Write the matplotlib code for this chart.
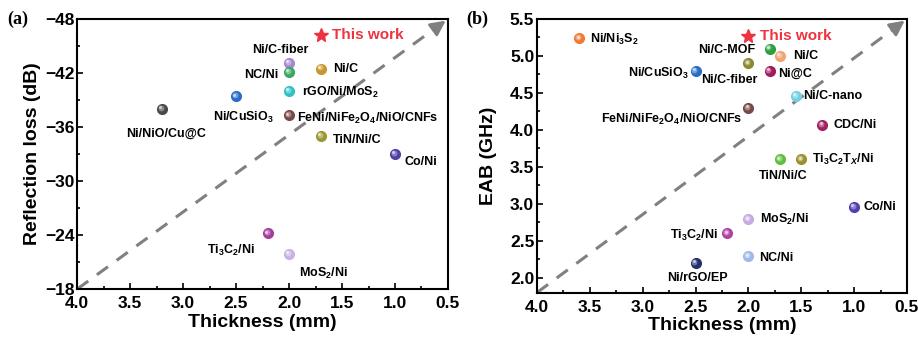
import numpy as np
import matplotlib.pyplot as plt
import matplotlib.colors as mcolors
from matplotlib.transforms import offset_copy

plt.rcParams['font.family'] = 'Liberation Sans'
plt.rcParams['font.weight'] = 'bold'
plt.rcParams['mathtext.fontset'] = 'custom'
plt.rcParams['mathtext.rm'] = 'Liberation Sans:bold'
plt.rcParams['mathtext.it'] = 'Liberation Sans:italic:bold'
plt.rcParams['mathtext.bf'] = 'Liberation Sans:bold'
plt.rcParams['mathtext.default'] = 'rm'

# (a) reflection loss vs thickness
rl_names = ['Ni/C-fiber', 'NC/Ni', 'Ni/C', r'rGO/Ni/MoS$_2$', r'Ni/CuSiO$_3$',
            'Ni/NiO/Cu@C', r'FeNi/NiFe$_2$O$_4$/NiO/CNFs', 'TiN/Ni/C', 'Co/Ni',
            r'Ti$_3$C$_2$/Ni', r'MoS$_2$/Ni']
rl_thick = [2.0, 2.0, 1.7, 2.0, 2.5, 3.2, 2.0, 1.7, 1.0, 2.2, 2.0]
rl_value = [-43.1, -42.1, -42.5, -40.0, -39.4, -38.0, -37.3, -35.0, -33.0, -24.2, -21.9]
rl_colors = ['#a886d2', '#3aa860', '#c8962c', '#30c2c4', '#2a6cc8',
             '#4a4a4a', '#7a4848', '#9a9832', '#5040a0', '#a43e9c', '#c8b2e2']
rl_this = (1.7, -46.2)

# (b) effective absorption bandwidth vs thickness
eab_names = [r'Ni/Ni$_3$S$_2$', 'Ni/C-MOF', 'Ni/C', 'Ni/C-fiber', r'Ni/CuSiO$_3$',
             'Ni@C', 'Ni/C-nano', r'FeNi/NiFe$_2$O$_4$/NiO/CNFs', 'CDC/Ni',
             'TiN/Ni/C', r'Ti$_3$C$_2$T$_\mathit{X}$/Ni', 'Co/Ni', r'MoS$_2$/Ni',
             r'Ti$_3$C$_2$/Ni', 'NC/Ni', 'Ni/rGO/EP']
eab_thick = [3.6, 1.8, 1.7, 2.0, 2.5, 1.8, 1.55, 2.0, 1.3, 1.7, 1.5, 1.0, 2.0, 2.2, 2.0, 2.5]
eab_value = [5.24, 5.1, 5.0, 4.9, 4.8, 4.8, 4.46, 4.3, 4.07, 3.6, 3.6, 2.96, 2.79, 2.6, 2.29, 2.2]
eab_colors = ['#f07a34', '#2e9e40', '#f4a272', '#8a8a30', '#2a6cc8',
              '#a01c5c', '#72d0e2', '#7a4848', '#a02262', '#62be44',
              '#9a9032', '#5040b0', '#c8aae2', '#b042a2', '#a2b8e8', '#22306c']
eab_this = (2.0, 5.27)

# label offsets (points) and alignment
rl_offsets = [(-6, 9.5, 'center'), (-8, -2, 'right'), (9, 0, 'left'), (9, -1, 'left'),
              (5, -15, 'center'), (3, -18, 'center'), (6, -2.5, 'left'), (9, -2.5, 'left'),
              (6.5, -6, 'left'), (-9, -12, 'right'), (7, -14, 'left')]
eab_offsets = [(8, -1, 'left'), (-10, -1, 'right'), (9, 0, 'left'), (-14, -12, 'center'),
               (-5, -2, 'right'), (6, -2, 'left'), (5, 0, 'left'), (-4, -8.5, 'right'),
               (8, 0, 'left'), (2, -12, 'center'), (8, 0, 'left'), (7, 0, 'left'),
               (8, 0, 'left'), (-7, -1.5, 'right'), (8, -1.5, 'left'), (1, -11, 'center')]


def ball(ax, x, y, color, ms=7):
    ax.plot(x, y, 'o', ms=ms, color=color, mec=color, zorder=3)
    c = np.array(mcolors.to_rgb(color))
    fig = ax.figure
    for frac, size, dx in [(0.35, 0.6, -0.8), (0.75, 0.3, -1.2)]:
        lc = c + (1 - c) * frac
        tr = offset_copy(ax.transData, fig=fig, x=dx, y=-dx, units='points')
        ax.plot(x, y, 'o', ms=ms * size, color=lc, mec='none', transform=tr, zorder=4)


def panel(ax, names, xs, ys, colors, offsets, this):
    ax.plot([0, 0.975], [0, 0.975], transform=ax.transAxes, color='#808080',
            lw=2.2, ls=(0, (4.5, 3.5)), zorder=1, clip_on=False)
    ax.annotate('', xy=(1.0, 1.0), xytext=(0.955, 0.955), xycoords='axes fraction',
                arrowprops=dict(arrowstyle='-|>,head_length=0.9,head_width=0.45',
                                color='#808080', lw=2.0), zorder=1)
    for n, x, y, c, (dx, dy, ha) in zip(names, xs, ys, colors, offsets):
        ball(ax, x, y, c)
        ax.annotate(n, (x, y), xytext=(dx, dy), textcoords='offset points',
                    ha=ha, va='center', fontsize=9, fontweight='bold')
    ax.plot(this[0], this[1], '*', ms=10, color='#ee3340', zorder=5)
    ax.annotate('This work', this, xytext=(8, 0), textcoords='offset points',
                ha='left', va='center', fontsize=11, fontweight='bold', color='#ee3340')
    ax.set_xlim(4.0, 0.5)
    ax.set_xticks(np.arange(4.0, 0.49, -0.5))
    ax.set_xticks(np.arange(4.0, 0.49, -0.25), minor=True)
    ax.set_xlabel('Thickness (mm)', fontsize=14, fontweight='bold', labelpad=2)
    ax.tick_params(which='both', direction='in', labelsize=12.5, width=1.2, pad=2)
    ax.tick_params(axis='x', which='major', pad=5)
    ax.tick_params(which='major', length=4)
    ax.tick_params(which='minor', length=2.5)
    for s in ax.spines.values():
        s.set_linewidth(1.5)


fig = plt.figure(figsize=(9.18, 3.39), dpi=100)
ax1 = fig.add_axes([0.084, 0.147, 0.404, 0.797])
ax2 = fig.add_axes([0.585, 0.137, 0.403, 0.807])

panel(ax1, rl_names, rl_thick, rl_value, rl_colors, rl_offsets, rl_this)
ax1.set_ylim(-18, -48)
ax1.set_yticks(np.arange(-48, -17, 6))
ax1.set_yticks(np.arange(-48, -17, 3), minor=True)
ax1.set_yticklabels([f'\u2212{abs(v)}' for v in range(-48, -17, 6)])
ax1.set_ylabel('Reflection loss (dB)', fontsize=14, fontweight='bold', labelpad=3)

panel(ax2, eab_names, eab_thick, eab_value, eab_colors, eab_offsets, eab_this)
ax2.set_ylim(1.8, 5.5)
ax2.set_yticks(np.arange(2.0, 5.51, 0.5))
ax2.set_yticks(np.arange(2.0, 5.51, 0.25), minor=True)
ax2.set_ylabel('EAB (GHz)', fontsize=14, fontweight='bold', labelpad=9)

fig.text(0.008, 0.944, '(a)', family='Liberation Serif', fontweight='bold',
         fontsize=13, va='center')
fig.text(0.508, 0.944, '(b)', family='Liberation Serif', fontweight='bold',
         fontsize=13, va='center')

fig.savefig('out.png', dpi=100)
